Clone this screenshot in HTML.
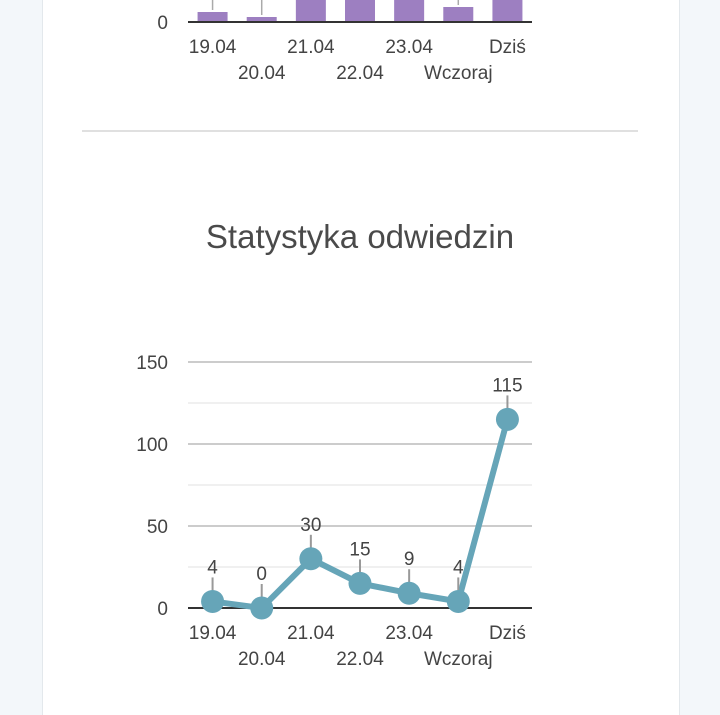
<!DOCTYPE html>
<html><head><meta charset="utf-8"><style>
body{margin:0;width:720px;height:715px;background:#f3f7fa;overflow:hidden;font-family:"Liberation Sans",sans-serif}
#card{position:absolute;left:42px;top:0;width:636px;height:715px;background:#fff;border-left:1px solid #e3e8ec;border-right:1px solid #e3e8ec}
#div{position:absolute;left:82px;top:130px;width:556px;height:2px;background:#e0e0e0}
#title{position:absolute;left:0;width:720px;top:218px;text-align:center;font-size:33px;color:#4a4a4a;font-weight:300}
svg{position:absolute;left:0;top:0}
text{font-family:"Liberation Sans",sans-serif;font-size:19px;fill:#444}
</style></head><body>
<div id="card"></div>
<div id="div"></div>
<div id="title">Statystyka odwiedzin</div>
<svg id="s" width="720" height="715"></svg>
<script>
const categories=["19.04","20.04","21.04","22.04","23.04","Wczoraj","Dziś"];
const visits=[4,0,30,15,9,4,115];
const barValues=[4,2,60,60,60,6,60];
const yTicks=[0,50,100,150];
const NS="http://www.w3.org/2000/svg",s=document.getElementById('s');
function el(t,a,txt){const e=document.createElementNS(NS,t);for(const k in a)e.setAttribute(k,a[k]);if(txt!=null)e.textContent=txt;s.appendChild(e);return e;}
const x0=188,x1=532,step=(x1-x0)/categories.length;
const xs=i=>x0+step*(i+0.5);
const by0=22,bs=2.5;
barValues.forEach((v,i)=>{const h=v*bs;
const r=el('rect',{x:xs(i)-15,y:by0-h,width:30,height:h,fill:'#9d7fc1'});

if(h<40){const l=el('line',{x1:xs(i),x2:xs(i),y1:by0-h-2,y2:-10,stroke:'#aaa','stroke-width':1.5});}
});
el('line',{x1:x0,x2:x1,y1:by0,y2:by0,stroke:'#333','stroke-width':2});
el('text',{x:168,y:29,'text-anchor':'end'},'0');
categories.forEach((c,i)=>{const t=el('text',{x:xs(i),y:i%2?79:53,'text-anchor':'middle'},c);});
const ly0=608,ly1=362,ymax=150;
const ys=v=>ly0-(v/ymax)*(ly0-ly1);
for(let v=25;v<=150;v+=25){const l=el('line',{x1:x0,x2:x1,y1:ys(v),y2:ys(v),stroke:v%50?'#ebebeb':'#ccc','stroke-width':v%50?1.5:2});}
yTicks.forEach(v=>{const t=el('text',{x:168,y:ys(v)+7,'text-anchor':'end'},v);});
el('line',{x1:x0,x2:x1,y1:ly0,y2:ly0,stroke:'#333','stroke-width':2});
const pts=visits.map((v,i)=>xs(i)+','+ys(v)).join(' ');
const pl=el('polyline',{points:pts,fill:'none',stroke:'#66a5b8','stroke-width':6,'stroke-linejoin':'round'});

visits.forEach((v,i)=>{const y=ys(v);
const st=el('line',{x1:xs(i),x2:xs(i),y1:y-11,y2:y-24,stroke:'#999','stroke-width':2});
const c=el('circle',{cx:xs(i),cy:y,r:11.5,fill:'#66a5b8'});
const t=el('text',{x:xs(i),y:y-28,'text-anchor':'middle'},v);
});
categories.forEach((c,i)=>{const t=el('text',{x:xs(i),y:i%2?665:639,'text-anchor':'middle'},c);});
</script>
</body></html>
